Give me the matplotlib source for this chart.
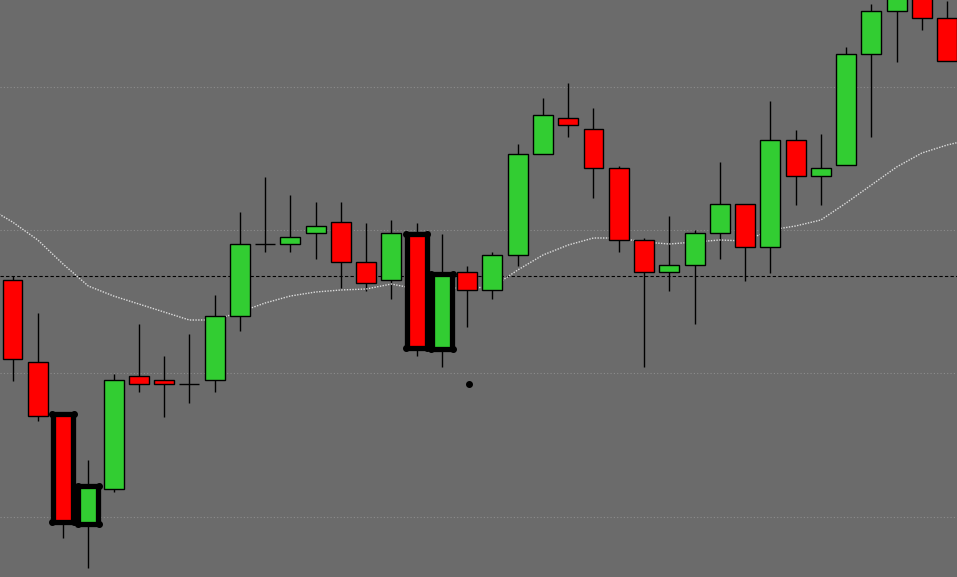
"""Candlestick chart with moving average, gray terminal style."""

import matplotlib
matplotlib.use("Agg")
import matplotlib.pyplot as plt
import numpy as np

# price levels (screen units, larger = lower price)
opens = [280, 362, 414, 524, 489, 376, 380, 384, 380, 316, 244, 244, 233, 222,
         262, 280, 234, 349, 272, 290, 255, 154, 118, 129, 168, 240, 272, 265,
         233, 204, 247, 140, 176, 165, 54, 11, -8, 18]
highs = [276, 313, 412, 460, 374, 324, 356, 334, 295, 212, 177, 195, 202, 202,
         223, 220, 223, 234, 266, 252, 144, 98, 83, 108, 166, 238, 216, 230,
         162, 204, 101, 130, 134, 47, 4, -15, -15, 1]
lows = [381, 421, 538, 568, 492, 392, 417, 403, 392, 331, 252, 252, 259, 288,
        291, 299, 356, 367, 327, 299, 266, 154, 137, 198, 252, 367, 291, 324,
        259, 281, 273, 205, 205, 165, 137, 62, 30, 61]
closes = [359, 416, 522, 486, 380, 384, 384, 384, 316, 244, 244, 237, 226, 262,
          283, 233, 348, 274, 290, 255, 154, 115, 125, 168, 240, 272, 265, 233,
          204, 247, 140, 176, 168, 54, 11, -6, 18, 61]
# moving average, from one bar before the first visible candle
# to one bar past the last (both off-screen)
ma = [207, 222, 240, 264, 286, 296, 304, 312, 320, 320, 312, 303, 296, 292,
      290, 289, 284, 289, 288, 288, 287, 270, 255, 245, 238, 238, 242, 244,
      242, 240, 241, 230, 226, 220, 203, 185, 167, 153, 145, 139]
ref_level = 276
grid_levels = [87, 230, 373, 517]
marked = [2, 3, 16, 17]
dot = (18.07, 384)

BG = "#6b6b6b"
UP = "#32cd32"
DOWN = "#ff0000"

fig = plt.figure(figsize=(9.57, 5.77), dpi=100, facecolor=BG)
ax = fig.add_axes([0, 0, 1, 1])
ax.set_facecolor(BG)

idx = np.arange(len(opens))
o = np.array(opens, float)
c = np.array(closes, float)
bull = c < o

for y in grid_levels:
    ax.axhline(y, color="#8c8c8c", lw=0.8, ls=(0, (1, 2)), zorder=0)
ax.axhline(ref_level, color="black", lw=0.8, ls=(0, (3, 2)), zorder=1)

ax.vlines(idx, highs, lows, color="black", lw=1.0, zorder=2)

colors = [UP if b else DOWN for b in bull]
ax.bar(idx, np.abs(c - o), bottom=np.minimum(o, c), width=0.79,
       color=colors, edgecolor="black", linewidth=1.0, zorder=3)

ma_x = np.arange(-1, len(ma) - 1)
ax.plot(ma_x, ma, color="#dcdcdc", lw=1.0, ls=(0, (1, 1)), zorder=2.5)

# hand-drawn highlight boxes
for i in marked:
    lo, hi = min(o[i], c[i]), max(o[i], c[i])
    ax.bar(i, hi - lo, bottom=lo, width=0.8, color="none",
           edgecolor="black", linewidth=3.8, zorder=4)
    for dx in (-0.42, 0.42):
        for yy in (lo, hi):
            ax.plot(i + dx, yy, "o", color="black", ms=4, zorder=4)

ax.plot(*dot, "o", color="black", ms=4, zorder=4)

ax.set_xlim(-0.495, 37.39)
ax.set_ylim(577, 0)
ax.axis("off")

fig.savefig("out.png", dpi=100, facecolor=BG)
